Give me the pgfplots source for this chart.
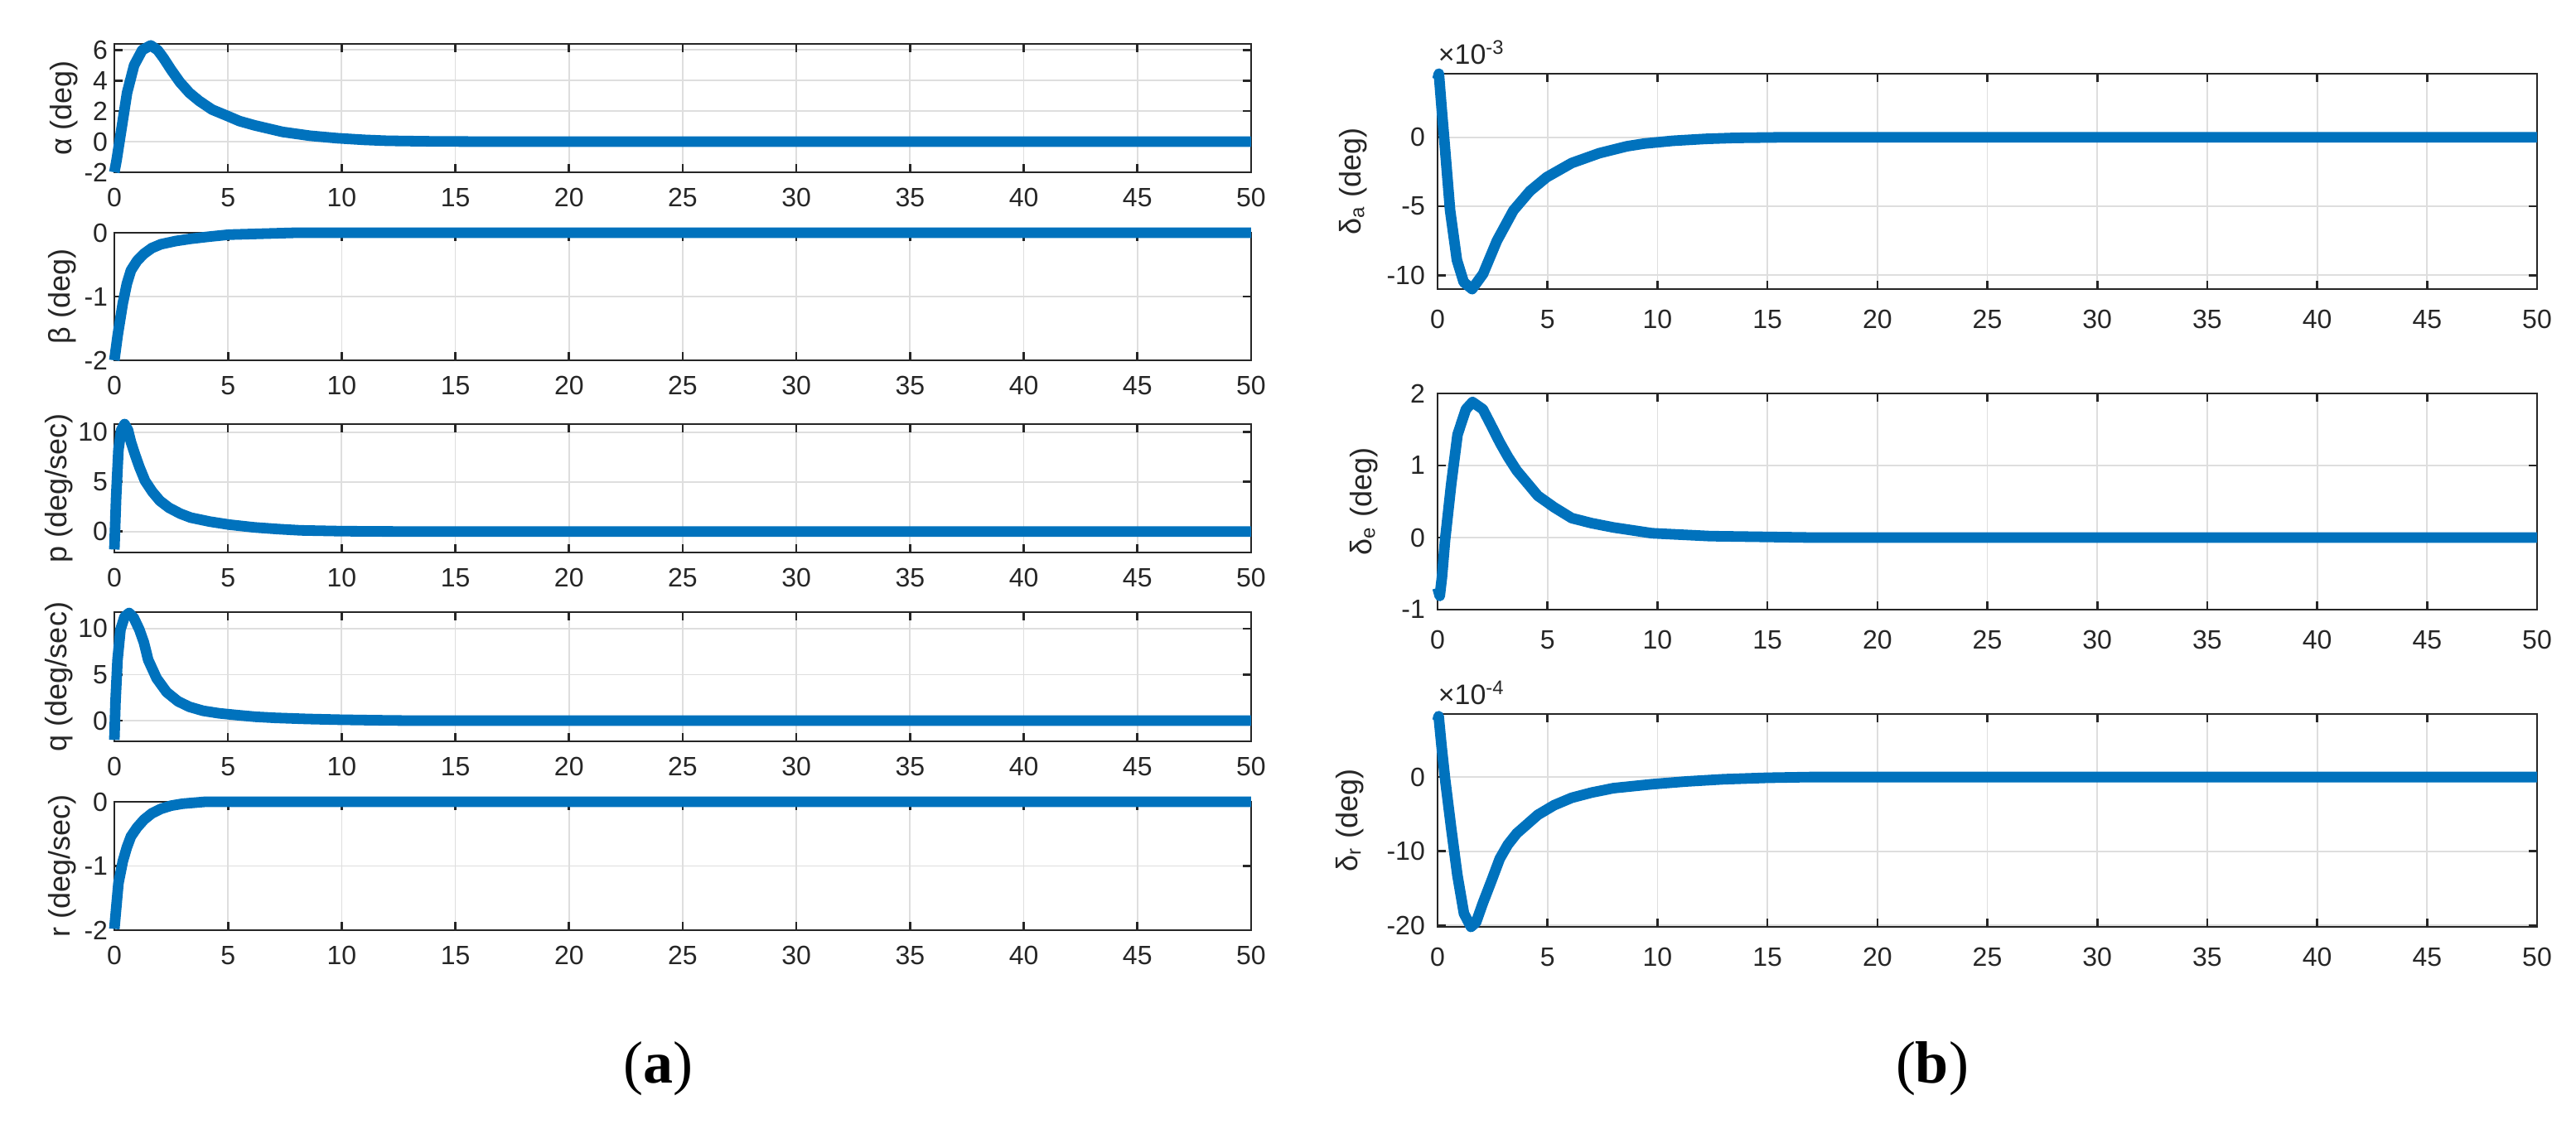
\documentclass[border=0pt]{standalone}
\usepackage{pgfplots}
\pgfplotsset{compat=1.18}
\usepackage{fontspec}
\setmainfont{Liberation Sans}
\newfontfamily\capfont{Liberation Serif}
\definecolor{matblue}{RGB}{0,114,189}
\definecolor{axc}{RGB}{38,38,38}
\definecolor{gridc}{RGB}{222,222,222}

\pgfplotsset{
  matax/.style={
    scale only axis, xmin=0, xmax=50, xtick={0,5,...,50},
    clip=false,
    axis line style={draw=axc, line width=0.65pt},
    grid=major, major grid style={draw=gridc, line width=0.45pt},
    tick align=inside, major tick length=2.5pt,
    tick style={draw=axc, line width=0.65pt},
    tick label style={font=\fontsize{8}{9}\selectfont, text=axc,
      /pgf/number format/assume math mode=true},
    ylabel style={font=\fontsize{9}{10}\selectfont, text=axc, anchor=center},
    every axis plot post/.append style={draw=matblue, line width=3.2pt, mark=none, line join=round},
  },
  lpanel/.style={matax, width=343pt, anchor=north west, at={(34.5pt,#1)},
    xticklabel shift=1.3pt, yticklabel style={inner xsep=1.8pt}},
  rpanel/.style={matax, width=331.75pt, anchor=north west, at={(433.75pt,#1)},
    xticklabel shift=2.8pt, yticklabel style={inner xsep=3.6pt},
    ytick scale label code/.code={×10\textsuperscript{##1}},
    every y tick scale label/.style={at={(rel axis cs:0,1)}, anchor=south west,
      inner sep=0pt, yshift=2.7pt, font=\fontsize{8.5}{9}\selectfont, text=axc}},
}

\begin{document}
\begin{tikzpicture}
\useasboundingbox (0,0) rectangle (777.25pt,-339.25pt);

% (a) state responses
\begin{axis}[lpanel=-13.25pt, height=38.75pt, ymin=-2, ymax=6.4, ytick={-2,0,2,4,6},
  ylabel={α (deg)}, ylabel style={at={(axis description cs:-0.0445,0.5)}}]
\addplot coordinates {(0,-2) (0.1,-1.2) (0.32,0.9) (0.56,3.2) (0.87,5.0) (1.23,6.0) (1.6,6.3)
 (1.9,6.0) (2.15,5.5) (2.5,4.7) (2.88,3.9) (3.3,3.2) (3.73,2.67) (4.3,2.1) (4.95,1.7)
 (5.5,1.35) (6.17,1.07) (7.4,0.64) (8.6,0.39) (9.8,0.23) (11,0.12) (12,0.06) (14,0.02)
 (17,0) (50,0)};
\end{axis}

\begin{axis}[lpanel=-70.25pt, height=38.5pt, ymin=-2, ymax=0, ytick={-2,-1,0},
  ylabel={β (deg)}, ylabel style={at={(axis description cs:-0.0459,0.5)}}]
\addplot coordinates {(0,-2) (0.15,-1.6) (0.37,-1.11) (0.55,-0.8) (0.73,-0.59) (1.0,-0.44)
 (1.3,-0.33) (1.65,-0.24) (2.05,-0.18) (2.7,-0.13) (3.35,-0.095) (4.2,-0.06) (5.03,-0.03)
 (6.5,-0.015) (8,0) (50,0)};
\end{axis}

\begin{axis}[lpanel=-128pt, height=38.75pt, ymin=-2.1, ymax=10.8, ytick={0,5,10},
  ylabel={p (deg/sec)}, ylabel style={at={(axis description cs:-0.0485,0.5)}}]
\addplot coordinates {(0,-1.8) (0.08,3.5) (0.18,8.2) (0.3,10.2) (0.45,10.8) (0.6,10.2)
 (0.73,9.0) (0.9,7.8) (1.1,6.5) (1.35,5.1) (1.67,4.0) (2.0,3.1) (2.4,2.4) (2.9,1.8)
 (3.36,1.4) (4.2,1.0) (5.04,0.7) (6.16,0.42) (7.2,0.25) (8.2,0.12) (10,0.04) (12,0.01)
 (15,0) (50,0)};
\end{axis}

\begin{axis}[lpanel=-184.75pt, height=39pt, ymin=-2.25, ymax=11.8, ytick={0,5,10},
  ylabel={q (deg/sec)}, ylabel style={at={(axis description cs:-0.0485,0.5)}}]
\addplot coordinates {(0,-2.1) (0.05,2.0) (0.14,6.6) (0.27,9.9) (0.45,11.3) (0.65,11.7)
 (0.85,11.2) (1.1,9.9) (1.3,8.5) (1.49,6.6) (1.86,4.6) (2.3,3.1) (2.8,2.1) (3.3,1.5)
 (3.9,1.07) (4.6,0.8) (5.4,0.6) (6.2,0.42) (7.1,0.3) (8.5,0.18) (9.9,0.1) (11.5,0.04)
 (13,0) (50,0)};
\end{axis}

\begin{axis}[lpanel=-242pt, height=38.75pt, ymin=-2, ymax=0, ytick={-2,-1,0},
  ylabel={r (deg/sec)}, ylabel style={at={(axis description cs:-0.0459,0.5)}}]
\addplot coordinates {(0,-1.98) (0.18,-1.27) (0.37,-0.93) (0.55,-0.71) (0.73,-0.54)
 (1.0,-0.4) (1.3,-0.28) (1.65,-0.18) (2.05,-0.11) (2.5,-0.06) (3,-0.03) (4,0) (50,0)};
\end{axis}

% (b) control deflections
\begin{axis}[rpanel=-22.25pt, height=65pt, ymin=-11.0e-3, ymax=4.6e-3,
  ytick={-0.01,-0.005,0}, scaled y ticks=base 10:3,
  ylabel={δ\textsubscript{a} (deg)}, ylabel style={at={(axis description cs:-0.0769,0.5)}}]
\addplot coordinates {(0,4.2e-3) (0.06,4.6e-3) (0.18,2.2e-3) (0.31,-0.26e-3) (0.57,-5.3e-3)
 (0.88,-8.9e-3) (1.19,-10.5e-3) (1.57,-11.0e-3) (2.07,-9.9e-3) (2.7,-7.5e-3) (3.45,-5.3e-3)
 (4.2,-3.9e-3) (4.96,-2.9e-3) (6.1,-1.87e-3) (7.35,-1.16e-3) (8.6,-0.66e-3) (9.4,-0.46e-3)
 (10.7,-0.26e-3) (12.2,-0.12e-3) (13.5,-0.05e-3) (16,0) (50,0)};
\end{axis}

\begin{axis}[rpanel=-118.75pt, height=65.25pt, ymin=-1, ymax=2, ytick={-1,0,1,2},
  ylabel={δ\textsubscript{e} (deg)}, ylabel style={at={(axis description cs:-0.0671,0.5)}}]
\addplot coordinates {(0,-0.70) (0.1,-0.81) (0.2,-0.55) (0.34,-0.04) (0.62,0.74) (0.91,1.43)
 (1.29,1.78) (1.59,1.88) (2.06,1.78) (2.45,1.55) (2.83,1.32) (3.2,1.12) (3.6,0.93)
 (4.56,0.58) (5.3,0.42) (6.1,0.27) (7.0,0.2) (8.0,0.14) (9.75,0.06) (12.4,0.02) (17,0) (50,0)};
\end{axis}

\begin{axis}[rpanel=-215.5pt, height=64.25pt, ymin=-20.2e-4, ymax=8.5e-4,
  ytick={-0.002,-0.001,0}, scaled y ticks=base 10:4,
  ylabel={δ\textsubscript{r} (deg)}, ylabel style={at={(axis description cs:-0.0799,0.5)}}]
\addplot coordinates {(0,7.6e-4) (0.05,8.2e-4) (0.18,4.2e-4) (0.34,-0.2e-4) (0.62,-6.9e-4)
 (0.9,-13.2e-4) (1.2,-18.4e-4) (1.52,-20.2e-4) (1.75,-19.6e-4) (2.06,-17.0e-4) (2.45,-14.0e-4)
 (2.83,-11.0e-4) (3.2,-9.1e-4) (3.6,-7.6e-4) (4.56,-5.1e-4) (5.3,-3.8e-4) (6.1,-2.8e-4)
 (7.0,-2.1e-4) (8.0,-1.5e-4) (9.75,-0.97e-4) (11.3,-0.6e-4) (13,-0.3e-4) (15,-0.1e-4)
 (17,0) (50,0)};
\end{axis}

\node[font=\capfont\fontsize{18}{20}\selectfont] at (198.5pt,-322.5pt) {(\textbf{a})};
\node[font=\capfont\fontsize{18}{20}\selectfont] at (583pt,-322.5pt) {(\textbf{b})};
\end{tikzpicture}
\end{document}
